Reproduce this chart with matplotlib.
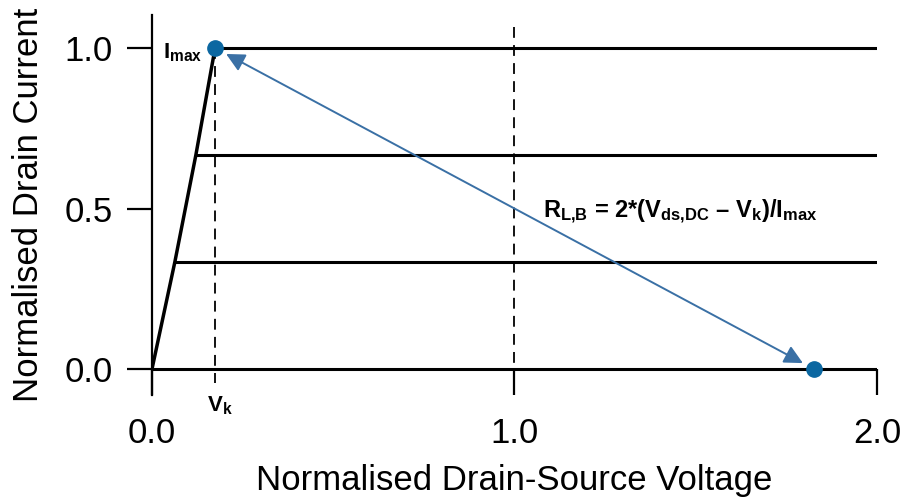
import matplotlib
matplotlib.use("Agg")
import matplotlib.pyplot as plt

plt.rcParams["font.family"] = ["Liberation Sans", "DejaVu Sans"]
plt.rcParams["mathtext.fontset"] = "custom"
plt.rcParams["mathtext.bf"] = "Liberation Sans:bold"
plt.rcParams["mathtext.rm"] = "Liberation Sans"
plt.rcParams["mathtext.default"] = "bf"

# output characteristics: current level and knee voltage of each curve
levels = [0.0, 1 / 3, 2 / 3, 1.0]
knees = [0.0, 0.063, 0.121, 0.174]
v_max = 2.0

v_k = 0.174
i_max = 1.0
v_end = 1.826
v_dc = 1.0

BLUE_DOT = "#0b67a1"
BLUE_LINE = "#3a70a5"

fig = plt.figure(figsize=(9.03, 4.99), dpi=100)
ax = fig.add_axes([152 / 903, 1 - 395 / 499, 725 / 903, 380 / 499])

# linear region through the knees, then flat saturation lines
ax.plot(knees, levels, color="black", lw=2.5, solid_capstyle="butt", zorder=2)
for v0, lev in zip(knees, levels):
    ax.plot([v0, v_max], [lev, lev], color="black", lw=2.2, solid_capstyle="butt", zorder=2)

# dashed markers
ax.plot([v_k, v_k], [i_max, -0.045], color="black", lw=1.3, ls=(0, (6, 4)), zorder=1)
ax.plot([v_dc, v_dc], [1.065, 0.0], color="black", lw=1.3, ls=(0, (6, 4)), zorder=1)

# load line
ax.annotate("", xy=(v_k, i_max), xytext=(v_end, 0.0),
            arrowprops=dict(arrowstyle="<|-|>", color=BLUE_LINE, lw=1.4,
                            mutation_scale=28, shrinkA=9, shrinkB=9),
            zorder=3)
ax.plot([v_k, v_end], [i_max, 0.0], ls="none", marker="o", ms=11,
        color=BLUE_DOT, zorder=4, clip_on=False)

ax.text(0.03, 0.985, r"$I_{max}$", fontsize=16, ha="left", va="center")
ax.text(v_k + 0.012, -0.115, r"$V_k$", fontsize=16, ha="center", va="center")
ax.text(1.078, 0.49, r"$R_{L{,}B}$ = 2*($V_{ds{,}DC}$ – $V_k$)/$I_{max}$",
        fontsize=17, fontweight="bold", ha="left", va="center")

ax.set_xlim(0, 2)
ax.set_ylim(-0.081, 1.103)
for s in ["top", "right", "bottom"]:
    ax.spines[s].set_visible(False)
ax.spines["left"].set_linewidth(1.6)

ax.set_xticks([0, 1, 2])
ax.set_xticklabels(["0.0", "1.0", "2.0"])
ax.set_yticks([0, 0.5, 1.0])
ax.set_yticklabels(["0.0", "0.5", "1.0"])
ax.tick_params(axis="x", direction="in", length=19, width=1.6, pad=16, labelsize=25)
ax.tick_params(axis="y", direction="out", length=18, width=1.6, pad=10, labelsize=25)

ax.set_xlabel("Normalised Drain-Source Voltage", fontsize=25, labelpad=10)
ax.set_ylabel("Normalised Drain Current", fontsize=25, labelpad=14)

fig.savefig("out.png", dpi=100)
